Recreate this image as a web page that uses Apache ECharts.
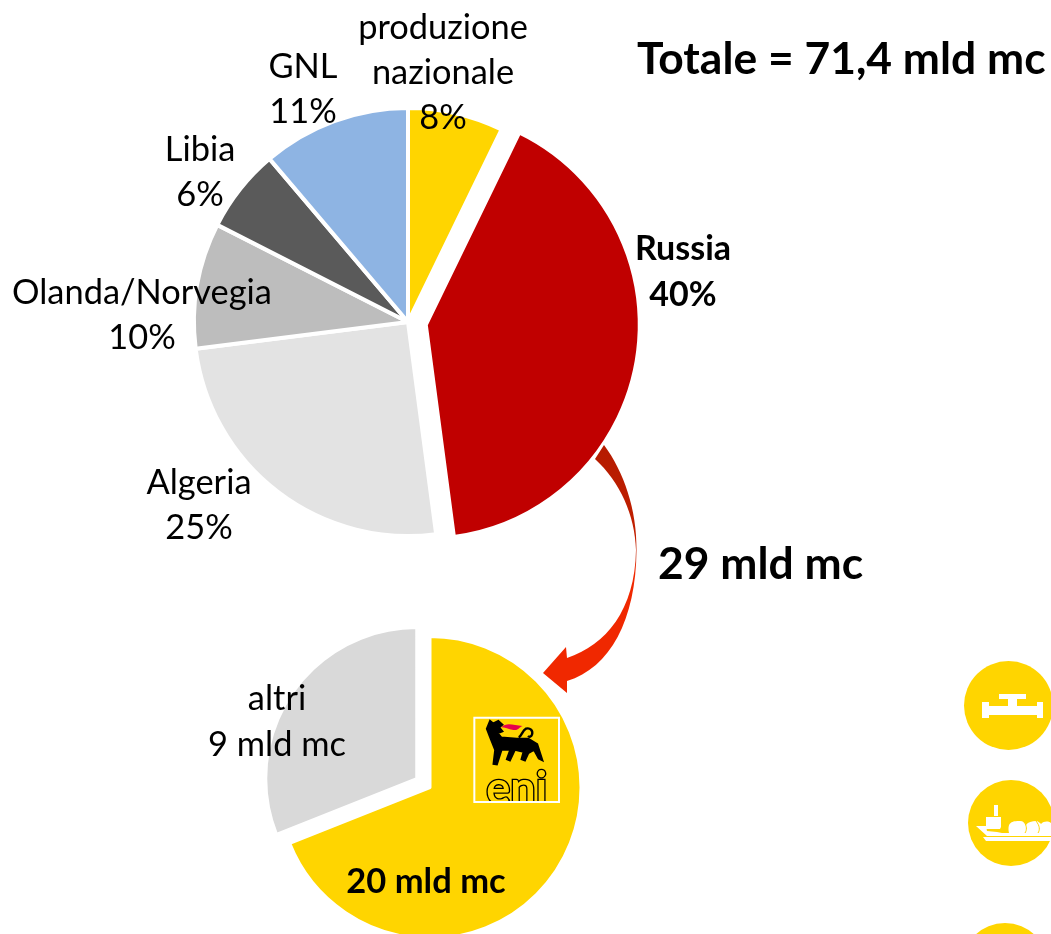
<!DOCTYPE html>
<html><head><meta charset="utf-8">
<script src="https://cdn.jsdelivr.net/npm/echarts@6/dist/echarts.min.js"></script>
<style>html,body{margin:0;padding:0;background:#fff}#c{width:1051px;height:934px}</style></head>
<body><div id="c"></div>
<script>
const sourceNames = ['produzione\nnazionale','Russia','Algeria','Olanda/Norvegia','Libia','GNL'];
const sourceAngles = [7.2,40.7,25.1,9.5,6.3,11.2];   // slice sizes as drawn in the picture
const sourceShares = [8,40,25,10,6,11];              // percentages as printed
const sourceColors = ['#FFD500','#C00000','#E3E3E3','#BDBDBD','#5A5A5A','#8EB4E3'];
const sourceLabelAt = [[443,73],[683,272],[199,505],[142,315],[200,172],[303,89]];
const russiaNames = ['eni','altri'];
const russiaValues = [20,9];
const russiaColors = ['#FFD500','#D9D9D9'];
const russiaLabelAt = [[426,882],[277,722]];
const titleText = 'Totale = 71,4 mld mc';
const flowText = '29 mld mc';
const unit = ' mld mc';
const F = 'Lato, "Open Sans", sans-serif';
const Y = '#FFD500';

const paths = {
  arrow:'M604 445 C624 472 637 510 636.5 550 C636 620 610 668 567 681 L567 693 L543 673 L566 647 L567 658 C606 645 635 610 636 550 C635 515 620 482 595 459 Z',
  flame:'M124 82 C140 66 160 76 188 78 C175 82 178 92 160 90 C145 88 135 82 124 82 Z',
  dog:'M90 62 L100 70 L115 62 L128 74 L118 82 L128 94 L114 100 L124 112 L170 116 L205 116 L232 132 L248 182 L236 176 L222 150 L205 160 L195 182 L184 178 L190 156 L165 150 L150 182 L140 178 L150 150 L125 150 L111 194 L100 192 L105 150 L90 112 L80 86 Z',
  tail:'M176 112 C186 108 186 92 198 86 C210 82 220 92 216 104 C214 110 208 112 204 108',
  ship:'M986 817 L1001 817 L1001 827 L1000 829 L986 829 Z M976 826 L986 826 L987 831 L997 832 L1002 833 L1051 833 L1051 836 L987 836 Z M983 837 L1051 837 L1051 841 L986 841 Z',
  tanks:'M1009 833 C1007 822 1012 821 1020 821 C1023 821 1025 823 1026 825 C1028 822 1032 821 1036 821 C1038 821 1040 823 1041 824 C1044 821 1048 821 1051 823 L1051 833 Z',
  tankLines:'M1024 822 C1027 826 1027 830 1025 833 M1036 821 C1040 826 1040 830 1038 833'
};
Object.keys(paths).forEach(k=>echarts.graphic.registerShape(k,echarts.graphic.extendPath(paths[k],{})));

const iRussia = sourceNames.indexOf('Russia');
const iAltri = russiaNames.indexOf('altri');
const tx = (at,text,size,weight,lh)=>({type:'text',silent:true,x:at[0],y:at[1],
  style:{text,fontFamily:F,fontSize:size,fontWeight:weight,lineHeight:lh,fill:'#000',align:'center',verticalAlign:'middle'}});

const withZ = e=>{e.z=10; if(e.children) e.children.forEach(withZ); return e;};

const chart = echarts.init(document.getElementById('c'), null, {renderer:'canvas'});
chart.setOption({
  animation:false,
  backgroundColor:'#fff',
  title:{text:titleText,left:632,top:33,textStyle:{fontFamily:F,fontSize:44.4,fontWeight:'bold',color:'#000'}},
  series:[
    {type:'pie',silent:true,center:[408,322],radius:[0,214],startAngle:90,clockwise:true,
     selectedMode:'multiple',selectedOffset:18,avoidLabelOverlap:false,
     itemStyle:{borderColor:'#fff',borderWidth:4},
     label:{show:true,position:'outside',formatter:p=>p.name+'\n'+sourceShares[p.dataIndex]+'%',fontFamily:F,fontSize:34.4,lineHeight:45,color:'#000',align:'center'},
     labelLine:{show:false},
     labelLayout:p=>({x:sourceLabelAt[p.dataIndex][0],y:sourceLabelAt[p.dataIndex][1],align:'center',verticalAlign:'middle'}),
     data:sourceNames.map((n,i)=>({name:n,value:sourceAngles[i],selected:i===iRussia,
       itemStyle:{color:sourceColors[i]},
       label:i===iRussia?{show:false}:{}}))},
    {type:'pie',silent:true,center:[430,787.5],radius:[0,151],startAngle:90,clockwise:true,
     selectedMode:'multiple',selectedOffset:16,avoidLabelOverlap:false,
     itemStyle:{borderColor:'#fff',borderWidth:3},
     label:{show:true,position:'outside',fontFamily:F,fontSize:34.5,fontWeight:'bold',color:'#000',align:'center',
       formatter:p=>p.value+unit},
     labelLine:{show:false},
     labelLayout:p=>({x:russiaLabelAt[p.dataIndex][0],y:russiaLabelAt[p.dataIndex][1],align:'center',verticalAlign:'middle'}),
     data:russiaNames.map((n,i)=>({name:n,value:russiaValues[i],selected:i===iAltri,
       itemStyle:{color:russiaColors[i]},
       label:i===iAltri?{show:false}:{}}))}
  ],
  graphic:[
    {type:'arrow',silent:true,
     style:{fill:new echarts.graphic.LinearGradient(0,0,0,1,[{offset:0,color:'#B51B00'},{offset:0.45,color:'#C42000'},{offset:0.5,color:'#F02800'},{offset:1,color:'#F02800'}])}},
    {type:'text',silent:true,x:658,y:565,style:{text:flowText,fontFamily:F,fontSize:44.4,fontWeight:'bold',fill:'#000',verticalAlign:'middle'}},
    tx(sourceLabelAt[iRussia],sourceNames[iRussia]+'\n'+sourceShares[iRussia]+'%',34,'bold',46),
    tx(russiaLabelAt[iAltri],russiaNames[iAltri]+'\n'+russiaValues[iAltri]+unit,34.4,'normal',46),

    // eni logo
    {type:'group',silent:true,x:460,y:700,scaleX:1/3,scaleY:1/3,children:[
      {type:'flame',style:{fill:'#E6004C'}},
      {type:'dog',style:{fill:'#000',stroke:'#000',lineWidth:5}},
      {type:'tail',style:{fill:'none',stroke:'#000',lineWidth:7}},
      {type:'text',x:170,y:268,style:{text:'eni',fontFamily:F,fontSize:135,fontWeight:'bold',fill:Y,stroke:'#000',lineWidth:8,align:'center',verticalAlign:'middle'}},
      {type:'rect',shape:{x:60,y:306,width:220,height:30},style:{fill:Y}},
      {type:'rect',shape:{x:43,y:53,width:254,height:253},style:{fill:'none',stroke:'#fff',lineWidth:6}}
    ]},

    // icon circles
    {type:'circle',silent:true,shape:{cx:1008.5,cy:705.5,r:44.5},style:{fill:Y}},
    {type:'rect',silent:true,shape:{x:982,y:702,width:7,height:16},style:{fill:'#fff'}},
    {type:'rect',silent:true,shape:{x:989,y:706,width:48,height:9},style:{fill:'#fff'}},
    {type:'rect',silent:true,shape:{x:1037,y:702,width:6,height:16},style:{fill:'#fff'}},
    {type:'rect',silent:true,shape:{x:1008,y:698,width:9,height:9},style:{fill:'#fff'}},
    {type:'rect',silent:true,shape:{x:999,y:694,width:27,height:5},style:{fill:'#fff'}},

    {type:'circle',silent:true,shape:{cx:1011,cy:823,r:43},style:{fill:Y}},
    {type:'rect',silent:true,shape:{x:994,y:805,width:4,height:11},style:{fill:'#fff'}},
    {type:'ship',silent:true,style:{fill:'#fff'}},
    {type:'tanks',silent:true,style:{fill:'#fff'}},
    {type:'tankLines',silent:true,style:{fill:'none',stroke:Y,lineWidth:1}},

    {type:'circle',silent:true,shape:{cx:1005,cy:966,r:43},style:{fill:Y}}
  ].map(withZ)
});
</script></body></html>
